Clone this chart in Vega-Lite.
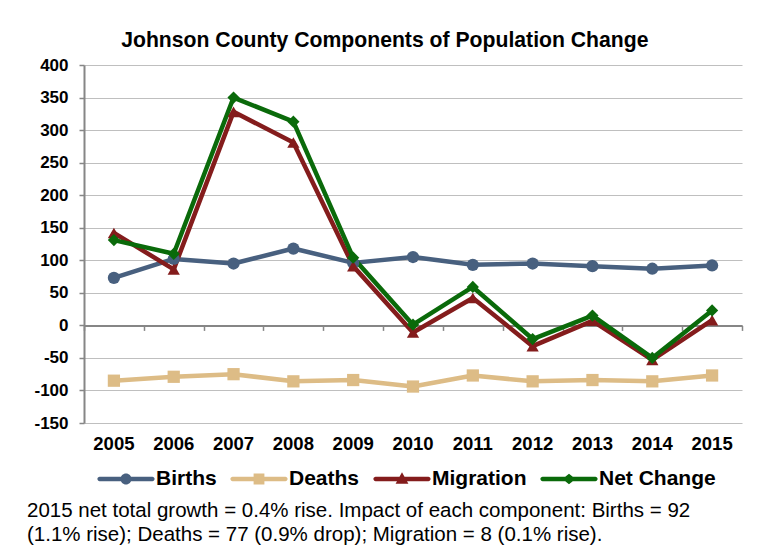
{
  "$schema": "https://vega.github.io/schema/vega-lite/v6.json",
  "background": "white",
  "padding": {"left": 26, "top": 29, "right": 5, "bottom": 5},
  "title": {
    "text": "Johnson County Components of Population Change",
    "font": "Liberation Sans",
    "fontSize": 21.2,
    "fontWeight": "bold",
    "color": "black",
    "anchor": "middle",
    "offset": 5
  },
  "data": {
    "values": [
      {"series": "Births", "year": "2005", "value": 73},
      {"series": "Births", "year": "2006", "value": 102},
      {"series": "Births", "year": "2007", "value": 95},
      {"series": "Births", "year": "2008", "value": 118},
      {"series": "Births", "year": "2009", "value": 96},
      {"series": "Births", "year": "2010", "value": 105},
      {"series": "Births", "year": "2011", "value": 93},
      {"series": "Births", "year": "2012", "value": 95},
      {"series": "Births", "year": "2013", "value": 91},
      {"series": "Births", "year": "2014", "value": 87},
      {"series": "Births", "year": "2015", "value": 92},
      {"series": "Deaths", "year": "2005", "value": -85},
      {"series": "Deaths", "year": "2006", "value": -79},
      {"series": "Deaths", "year": "2007", "value": -75},
      {"series": "Deaths", "year": "2008", "value": -86},
      {"series": "Deaths", "year": "2009", "value": -84},
      {"series": "Deaths", "year": "2010", "value": -94},
      {"series": "Deaths", "year": "2011", "value": -77},
      {"series": "Deaths", "year": "2012", "value": -86},
      {"series": "Deaths", "year": "2013", "value": -84},
      {"series": "Deaths", "year": "2014", "value": -86},
      {"series": "Deaths", "year": "2015", "value": -77},
      {"series": "Migration", "year": "2005", "value": 142},
      {"series": "Migration", "year": "2006", "value": 86},
      {"series": "Migration", "year": "2007", "value": 328},
      {"series": "Migration", "year": "2008", "value": 281},
      {"series": "Migration", "year": "2009", "value": 91},
      {"series": "Migration", "year": "2010", "value": -11},
      {"series": "Migration", "year": "2011", "value": 42},
      {"series": "Migration", "year": "2012", "value": -32},
      {"series": "Migration", "year": "2013", "value": 7},
      {"series": "Migration", "year": "2014", "value": -53},
      {"series": "Migration", "year": "2015", "value": 8},
      {"series": "Net Change", "year": "2005", "value": 131},
      {"series": "Net Change", "year": "2006", "value": 110},
      {"series": "Net Change", "year": "2007", "value": 350},
      {"series": "Net Change", "year": "2008", "value": 313},
      {"series": "Net Change", "year": "2009", "value": 104},
      {"series": "Net Change", "year": "2010", "value": 1},
      {"series": "Net Change", "year": "2011", "value": 59},
      {"series": "Net Change", "year": "2012", "value": -21},
      {"series": "Net Change", "year": "2013", "value": 15},
      {"series": "Net Change", "year": "2014", "value": -50},
      {"series": "Net Change", "year": "2015", "value": 23}
    ]
  },
  "vconcat": [
    {
      "width": 658,
      "height": 358,
      "title": {
        "text": [
          "2015 net total growth = 0.4% rise. Impact of each component: Births = 92",
          "(1.1% rise); Deaths = 77 (0.9% drop); Migration = 8 (0.1% rise)."
        ],
        "orient": "bottom",
        "anchor": "start",
        "frame": "bounds",
        "font": "Liberation Sans",
        "fontSize": 20.5,
        "fontWeight": "normal",
        "lineHeight": 23.5,
        "color": "black",
        "offset": -10,
        "dx": -7
      },
      "encoding": {
        "y": {
          "field": "value",
          "type": "quantitative",
          "title": null,
          "scale": {"domain": [-150, 400], "nice": false, "zero": false},
          "axis": {
            "values": [-150, -100, -50, 0, 50, 100, 150, 200, 250, 300, 350, 400],
            "labelExpr": "replace(datum.label, '\u2212', '-')",
            "grid": true,
            "gridColor": "#BFBFBF",
            "gridWidth": 1,
            "domain": true,
            "domainColor": "#868686",
            "domainWidth": 2,
            "ticks": true,
            "tickSize": 5,
            "tickColor": "#868686",
            "tickWidth": 1.5,
            "labelFont": "Liberation Sans",
            "labelFontSize": 17,
            "labelFontWeight": "bold",
            "labelColor": "black",
            "labelPadding": 11
          }
        }
      },
      "layer": [
        {
          "mark": {"type": "line", "strokeWidth": 4.5, "strokeJoin": "round", "strokeCap": "round"},
          "encoding": {
            "x": {
              "field": "year",
              "type": "ordinal",
              "bandPosition": 0.5,
              "scale": {"type": "band", "paddingInner": 0, "paddingOuter": 0},
              "axis": {
                "orient": "bottom",
                "title": null,
                "domain": false,
                "ticks": false,
                "tickSize": 0,
                "grid": false,
                "labelAngle": 0,
                "labelFont": "Liberation Sans",
                "labelFontSize": 18.5,
                "labelFontWeight": "bold",
                "labelColor": "black",
                "labelPadding": 11
              }
            },
            "color": {
              "field": "series",
              "type": "nominal",
              "scale": {
                "domain": ["Births", "Deaths", "Migration", "Net Change"],
                "range": ["#48607F", "#DDBC86", "#841C1C", "#0A6A0A"]
              },
              "legend": null
            }
          }
        },
        {
          "mark": {"type": "point", "filled": true, "opacity": 1, "size": 150},
          "encoding": {
            "x": {
              "field": "year",
              "type": "ordinal",
              "bandPosition": 0.5,
              "scale": {"type": "band", "paddingInner": 0, "paddingOuter": 0},
              "axis": {
                "orient": "bottom",
                "offset": -97.6,
                "title": null,
                "labels": false,
                "domain": true,
                "domainColor": "#868686",
                "domainWidth": 2,
                "ticks": true,
                "tickBand": "extent",
                "tickSize": 5,
                "tickColor": "#868686",
                "tickWidth": 1.5,
                "grid": false
              }
            },
            "color": {
              "field": "series",
              "type": "nominal",
              "scale": {
                "domain": ["Births", "Deaths", "Migration", "Net Change"],
                "range": ["#48607F", "#DDBC86", "#841C1C", "#0A6A0A"]
              },
              "legend": null
            },
            "shape": {
              "field": "series",
              "type": "nominal",
              "scale": {
                "domain": ["Births", "Deaths", "Migration", "Net Change"],
                "range": ["circle", "square", "triangle-up", "diamond"]
              },
              "legend": null
            }
          }
        },
        {
          "mark": {"type": "point", "filled": true, "opacity": 0},
          "encoding": {
            "x": {
              "field": "year",
              "type": "ordinal",
              "bandPosition": 0.5,
              "scale": {"type": "band", "paddingInner": 0, "paddingOuter": 0},
              "axis": null
            },
            "color": {
              "field": "series",
              "type": "nominal",
              "scale": {
                "domain": ["Births", "Deaths", "Migration", "Net Change"],
                "range": ["#48607F", "#DDBC86", "#841C1C", "#0A6A0A"]
              },
              "legend": {
                "title": null,
                "orient": "bottom",
                "direction": "horizontal",
                "columns": 4,
                "symbolSize": 1600,
                "symbolStrokeWidth": 0,
                "symbolOpacity": 1,
                "labelFont": "Liberation Sans",
                "labelFontSize": 21,
                "labelFontWeight": "bold",
                "labelColor": "black",
                "labelOffset": 10,
                "labelLimit": 300,
                "columnPadding": 13,
                "padding": 22,
                "offset": -16
              }
            },
            "shape": {
              "field": "series",
              "type": "nominal",
              "scale": {
                "domain": ["Births", "Deaths", "Migration", "Net Change"],
                "range": [
                  "M-1.32,-0.11H1.32A0.11,0.11 0 0,1 1.32,0.11H-1.32A0.11,0.11 0 0,1 -1.32,-0.11Z M0.275,0A0.275,0.275 0 1,1 -0.275,0A0.275,0.275 0 1,1 0.275,0Z",
                  "M-1.32,-0.11H1.32A0.11,0.11 0 0,1 1.32,0.11H-1.32A0.11,0.11 0 0,1 -1.32,-0.11Z M-0.27,-0.27H0.27V0.27H-0.27Z",
                  "M-1.32,-0.11H1.32A0.11,0.11 0 0,1 1.32,0.11H-1.32A0.11,0.11 0 0,1 -1.32,-0.11Z M0,-0.34L0.32,0.24H-0.32Z",
                  "M-1.32,-0.11H1.32A0.11,0.11 0 0,1 1.32,0.11H-1.32A0.11,0.11 0 0,1 -1.32,-0.11Z M0,-0.26L0.33,0L0,0.26L-0.33,0Z"
                ]
              },
              "legend": {
                "title": null,
                "orient": "bottom",
                "direction": "horizontal",
                "columns": 4,
                "symbolSize": 1600,
                "symbolStrokeWidth": 0,
                "symbolOpacity": 1,
                "labelFont": "Liberation Sans",
                "labelFontSize": 21,
                "labelFontWeight": "bold",
                "labelColor": "black",
                "labelOffset": 10,
                "labelLimit": 300,
                "columnPadding": 13,
                "padding": 22,
                "offset": -16
              }
            }
          }
        }
      ],
      "resolve": {
        "scale": {"shape": "independent", "color": "independent"},
        "axis": {"x": "independent"}
      }
    }
  ],
  "config": {
    "view": {"stroke": null},
    "font": "Liberation Sans"
  }
}
